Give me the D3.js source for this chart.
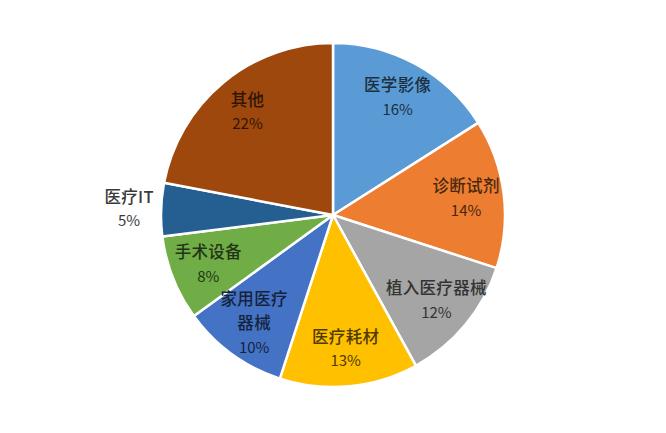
<!DOCTYPE html>
<html>
<head>
<meta charset="utf-8">
<script src="https://cdn.jsdelivr.net/npm/d3@7"></script>
<style>
  html, body { margin: 0; padding: 0; background: #fff; }
  svg { display: block; }
  .label text { font-family: "Noto Sans CJK SC", "Noto Sans", sans-serif; text-anchor: middle; }
</style>
</head>
<body>
<div id="chart"></div>
<script>
// market share by segment, clockwise from 12 o'clock
const categories = ['医学影像', '诊断试剂', '植入医疗器械', '医疗耗材', '家用医疗器械', '手术设备', '医疗IT', '其他'];
const shares = [16, 14, 12, 13, 10, 8, 5, 22];
const colors = ['#5b9bd5', '#ed7d31', '#a5a5a5', '#ffc000', '#4472c4', '#70ad47', '#255e91', '#9e480e'];
// how the category names break over lines in the labels
const labelLines = [['医学影像'], ['诊断试剂'], ['植入医疗器械'], ['医疗耗材'], ['家用医疗', '器械'], ['手术设备'], ['医疗IT'], ['其他']];

const width = 666;
const height = 433;
const cx = 333;
const cy = 215;
const radius = 172;

const data = categories.map((c, i) => ({ name: c, value: shares[i], color: colors[i], lines: labelLines[i] }));

const svg = d3.select('#chart')
  .append('svg')
  .attr('width', width)
  .attr('height', height);

const g = svg.append('g')
  .attr('transform', 'translate(' + cx + ',' + cy + ')');

const pie = d3.pie()
  .value(d => d.value)
  .sort(null);

const arc = d3.arc()
  .innerRadius(0)
  .outerRadius(radius);

const labelArc = d3.arc()
  .innerRadius(radius * 0.78)
  .outerRadius(radius * 0.78);

const outsideArc = d3.arc()
  .innerRadius(radius + 32)
  .outerRadius(radius + 32);

const arcs = pie(data);

g.selectAll('path.slice')
  .data(arcs)
  .enter()
  .append('path')
  .attr('class', 'slice')
  .attr('d', arc)
  .attr('fill', d => d.data.color)
  .attr('stroke', '#fff')
  .attr('stroke-width', 2.5)
  .attr('stroke-linejoin', 'round');

const lineH = 24;

const labels = g.selectAll('g.label')
  .data(arcs)
  .enter()
  .append('g')
  .attr('class', 'label')
  .attr('transform', d => {
    const outside = d.data.value < 6;
    const p = outside ? outsideArc.centroid(d) : labelArc.centroid(d);
    return 'translate(' + p[0] + ',' + p[1] + ')';
  });

labels.each(function (d) {
  const el = d3.select(this);
  const outside = d.data.value < 6;
  const fill = outside ? '#3a3a3a' : d3.color(d.data.color).darker(3.3).formatHex();
  const rows = d.data.lines.concat([d.data.value + '%']);
  const top = -(rows.length - 1) * lineH / 2;
  rows.forEach((t, i) => {
    const isPct = i === rows.length - 1;
    el.append('text')
      .attr('y', top + i * lineH)
      .attr('dy', '0.36em')
      .attr('fill', fill)
      .style('font-size', isPct ? '15px' : '16.5px')
      .style('font-weight', isPct ? 400 : 500)
      .style('letter-spacing', isPct ? '0px' : '0.3px')
      .text(t);
  });
});
</script>
</body>
</html>
